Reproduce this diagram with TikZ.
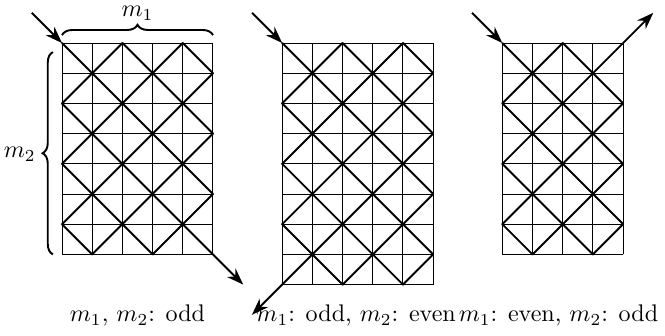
\documentclass[tikz,border=0pt]{standalone}
\usepackage{amsmath}
\usepackage{tikz}
\usetikzlibrary{arrows.meta,decorations.pathreplacing}
\tikzset{
  gridline/.style={line width=0.4pt},
  pathline/.style={thick,line cap=round},
  ray/.style={thick,-{Stealth[length=7pt,width=5pt]}},
  bracket/.style={decorate,decoration={brace,amplitude=4.3pt},thick},
}

\begin{document}
\begin{tikzpicture}[x=0.4416cm,y=0.4416cm]
  \useasboundingbox (-2.053,1.424) rectangle (19.967,-9.702);
  % m1, m2 odd
  \begin{scope}
    \draw[gridline,step=1] (0,0) grid (5,-7);
    \foreach \i in {0,...,4} {
      \foreach \j in {0,...,6} {
        \pgfmathtruncatemacro\parity{mod(\i+\j,2)}
        \ifnum\parity=0
          \draw[pathline] (\i,-\j)--++(1,-1);
        \else
          \draw[pathline] (\i+1,-\j)--++(-1,-1);
        \fi
      }
    }
    \coordinate (oo-nw) at (0,0);
    \coordinate (oo-se) at (5,-7);
    \coordinate (oo-in) at (-1,1);
    \coordinate (oo-out) at (6,-8);
    \draw[ray] (oo-in)--(oo-nw);
    \draw[ray] (oo-se)--(oo-out);
    \draw[bracket] (0,0.26)--(5,0.26);
    \draw[bracket] (-0.3,-7)--(-0.3,-0.3);
    \node[inner sep=1pt] (m1lab) at (2.5,0.98) {$m_1$};
    \node (m2lab) at (-1.4,-3.68) {$m_2$};
    \node (oolab) at (2.5,-9.02) {$m_1$, $m_2$: odd};
  \end{scope}
  % m1 odd, m2 even
  \begin{scope}[shift={(7.29,0)}]
    \draw[gridline,step=1] (0,0) grid (5,-8);
    \foreach \i in {0,...,4} {
      \foreach \j in {0,...,7} {
        \pgfmathtruncatemacro\parity{mod(\i+\j,2)}
        \ifnum\parity=0
          \draw[pathline] (\i,-\j)--++(1,-1);
        \else
          \draw[pathline] (\i+1,-\j)--++(-1,-1);
        \fi
      }
    }
    \coordinate (oe-nw) at (0,0);
    \coordinate (oe-sw) at (0,-8);
    \coordinate (oe-in) at (-1,1);
    \coordinate (oe-out) at (-1,-9);
    \draw[ray] (oe-in)--(oe-nw);
    \draw[ray] (oe-sw)--(oe-out);
    \node (oelab) at (2.45,-9.02) {$m_1$: odd, $m_2$: even};
  \end{scope}
  % m1 even, m2 odd
  \begin{scope}[shift={(14.58,0)}]
    \draw[gridline,step=1] (0,0) grid (4,-7);
    \foreach \i in {0,...,3} {
      \foreach \j in {0,...,6} {
        \pgfmathtruncatemacro\parity{mod(\i+\j,2)}
        \ifnum\parity=0
          \draw[pathline] (\i,-\j)--++(1,-1);
        \else
          \draw[pathline] (\i+1,-\j)--++(-1,-1);
        \fi
      }
    }
    \coordinate (eo-nw) at (0,0);
    \coordinate (eo-ne) at (4,0);
    \coordinate (eo-in) at (-1,1);
    \coordinate (eo-out) at (5,1);
    \draw[ray] (eo-in)--(eo-nw);
    \draw[ray] (eo-ne)--(eo-out);
    \node (eolab) at (1.86,-9.02) {$m_1$: even, $m_2$: odd};
  \end{scope}
\end{tikzpicture}
\end{document}
